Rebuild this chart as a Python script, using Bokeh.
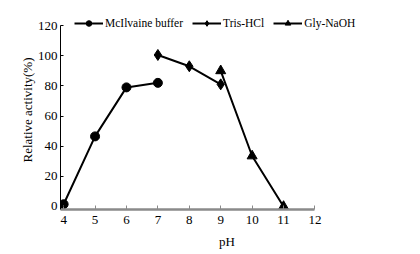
from bokeh.plotting import figure
from bokeh.models import Range1d, Legend, LegendItem, FixedTicker
from bokeh.embed import file_html
from bokeh.resources import INLINE

# data
mc_ph = [4, 5, 6, 7]
mc_act = [1.5, 46.5, 79, 82]
tris_ph = [7, 8, 9]
tris_act = [100.5, 93, 81]
gly_ph = [9, 10, 11]
gly_act = [90, 33.5, 0]
x_ticks = [4, 5, 6, 7, 8, 9, 10, 11, 12]
y_ticks = [0, 20, 40, 60, 80, 100, 120]
labels = ["McIlvaine buffer", "Tris-HCl", "Gly-NaOH"]

FONT = "Liberation Serif"

p = figure(width=420, height=254, output_backend="svg", toolbar_location=None,
           x_range=Range1d(3.9, 14.5), y_range=Range1d(-2, 130),
           min_border_left=60, min_border_right=27, min_border_top=10, min_border_bottom=45)
p.outline_line_color = None
p.xgrid.visible = False
p.ygrid.visible = False

r1 = p.line(mc_ph, mc_act, line_color="black", line_width=2)
m1 = p.scatter(mc_ph, mc_act, marker="circle", size=9, color="black")
r2 = p.line(tris_ph, tris_act, line_color="black", line_width=2)
m2 = p.scatter(tris_ph, tris_act, marker="diamond", size=11, color="black")
r3 = p.line(gly_ph, gly_act, line_color="black", line_width=2)
m3 = p.scatter(gly_ph, gly_act, marker="triangle", size=10, color="black")

legend = Legend(items=[LegendItem(label=labels[0], renderers=[r1, m1]),
                       LegendItem(label=labels[1], renderers=[r2, m2]),
                       LegendItem(label=labels[2], renderers=[r3, m3])],
                orientation="horizontal", location=(14, 179),
                background_fill_alpha=0, border_line_color=None,
                padding=0, margin=0, spacing=9, glyph_width=29, glyph_height=14,
                label_height=14, label_standoff=2,
                label_text_font=FONT, label_text_font_size="11.5px", label_text_color="black")
p.add_layout(legend, "center")

p.xaxis.bounds = (3.9, 12)
p.yaxis.bounds = (-2, 120)
p.xaxis.ticker = FixedTicker(ticks=x_ticks)
p.yaxis.ticker = FixedTicker(ticks=y_ticks)
p.xaxis.minor_tick_line_color = None
p.yaxis.minor_tick_line_color = None
p.xaxis.axis_line_color = "#8a8a8a"
p.xaxis.axis_line_width = 2.5
p.xaxis.major_tick_line_color = "#8a8a8a"
p.xaxis.major_tick_in = 4
p.xaxis.major_tick_out = 0
p.yaxis.axis_line_color = "black"
p.yaxis.axis_line_width = 1
p.yaxis.major_tick_line_color = "black"
p.yaxis.major_tick_in = 3
p.yaxis.major_tick_out = 0

for ax in (p.xaxis, p.yaxis):
    ax.major_label_text_font = FONT
    ax.major_label_text_font_size = "13px"
    ax.major_label_text_color = "black"
    ax.axis_label_text_font = FONT
    ax.axis_label_text_font_size = "13px"
    ax.axis_label_text_font_style = "normal"
    ax.axis_label_text_color = "black"
p.xaxis.major_label_standoff = 6
p.yaxis.major_label_standoff = 3
p.xaxis.axis_label = "pH"
p.yaxis.axis_label = "Relative activity(%)"
p.xaxis.axis_label_standoff = 7
p.yaxis.axis_label_standoff = 0

open("out.html", "w").write(file_html(p, INLINE))
